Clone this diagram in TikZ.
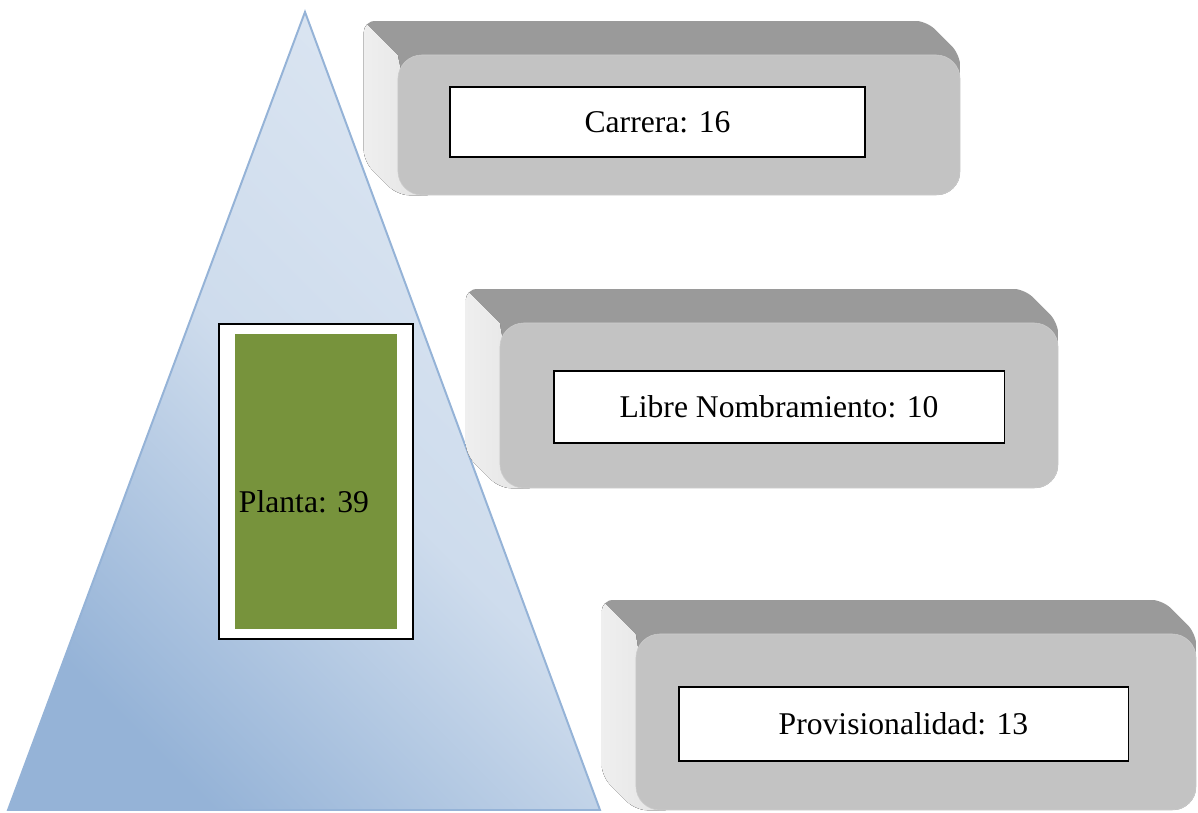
\documentclass[tikz,border=0pt]{standalone}
\usepackage{fontspec}
\setmainfont{Liberation Serif}
\usetikzlibrary{calc,backgrounds}
\definecolor{trilight}{HTML}{DCE6F2}
\definecolor{tridark}{HTML}{95B3D7}
\definecolor{boxfront}{HTML}{C3C3C3}
\definecolor{boxtop}{HTML}{9A9A9A}
\definecolor{boxside}{HTML}{E4E4E4}
\definecolor{plantagreen}{HTML}{77933C}
\tikzstyle{front_face} = [rounded corners=0.6cm,
						  fill=boxfront,
						  draw=boxfront!85!white,
						  thin]
\tikzstyle{count_box} = [draw=black,
						 thick,
						 fill=white,
						 align=center,
						 font=\fontsize{22.5}{27}\selectfont]
\tikzstyle{planta_frame} = [draw=black,
						  thick,
						  fill=white,
						  minimum width=4.85cm,
						  minimum height=7.875cm]
\tikzstyle{planta_fill} = [fill=plantagreen,
						  minimum width=4.05cm,
						  minimum height=7.35cm]

\begin{document}
\begin{tikzpicture}[x=0.025cm, y=-0.025cm]
        \useasboundingbox (0,0) rectangle (1198,813);

        %%%%%%%%%%%%%
        % FRONTS    %
        %%%%%%%%%%%%%
        \node[front_face, minimum width=14.05cm, minimum height=3.5cm] (c1) at (679,125) {};
        \node[front_face, minimum width=13.95cm, minimum height=4.125cm] (c2) at (779,405.5) {};
        \node[front_face, minimum width=14cm, minimum height=4.4cm] (c3) at (916,722) {};

        %%%%%%%%%%%%%
        % BACKDROP  %
        %%%%%%%%%%%%%
        \begin{scope}[on background layer]
            \draw[draw=tridark, line width=1.4pt, bottom color=tridark, top color=trilight,
                  middle color=trilight!80!tridark, shading angle=-45]
                (305,12) -- (600,810) -- (8,810) -- cycle;
            \foreach \b in {c1,c2,c3} {
                \coordinate (\b nw) at ($(\b.north west)+(-34,-34)$);
                \coordinate (\b ne) at ($(\b.north east)+(-34,-34)$);
                \coordinate (\b sw) at ($(\b.south west)+(-34,-34)$);
                \begin{scope}
                    \clip[rounded corners=0.3cm] (\b nw) -- (\b ne) -- (\b.north east)
                        [rounded corners=0.6cm] -- (\b.south east)
                        [rounded corners=0.3cm] -- (\b.south west) -- (\b sw) -- cycle;
                    \fill[boxtop] (\b nw) rectangle (\b.south east);
                    \fill[left color=boxside!60!white, right color=boxside]
                        (\b nw) -- (\b.north west) -- ($(\b.south west)+(30,0)$)
                        -- (\b.south west) -- (\b sw) -- cycle;
                \end{scope}
            }
        \end{scope}

        %%%%%%%%%%%%%
        % LABELS    %
        %%%%%%%%%%%%%
        \node[count_box, minimum width=10.375cm, minimum height=1.75cm] (carrera) at (657.5,122) {Carrera: 16};
        \node[count_box, minimum width=11.25cm, minimum height=1.8cm] (libre) at (779,407) {Libre Nombramiento: 10};
        \node[count_box, minimum width=11.225cm, minimum height=1.85cm] (prov) at (903.5,724) {Provisionalidad: 13};

        %%%%%%%%%%%%%
        % PLANTA    %
        %%%%%%%%%%%%%
        \node[planta_frame] (pframe) at (316,481.5) {};
        \node[planta_fill] (pfill) at (pframe.center) {};
        \node[anchor=west, inner sep=0pt, font=\fontsize{22.5}{27}\selectfont] (ptext) at ($(pfill.west)+(4,20)$) {Planta: 39};

    \end{tikzpicture}
\end{document}
